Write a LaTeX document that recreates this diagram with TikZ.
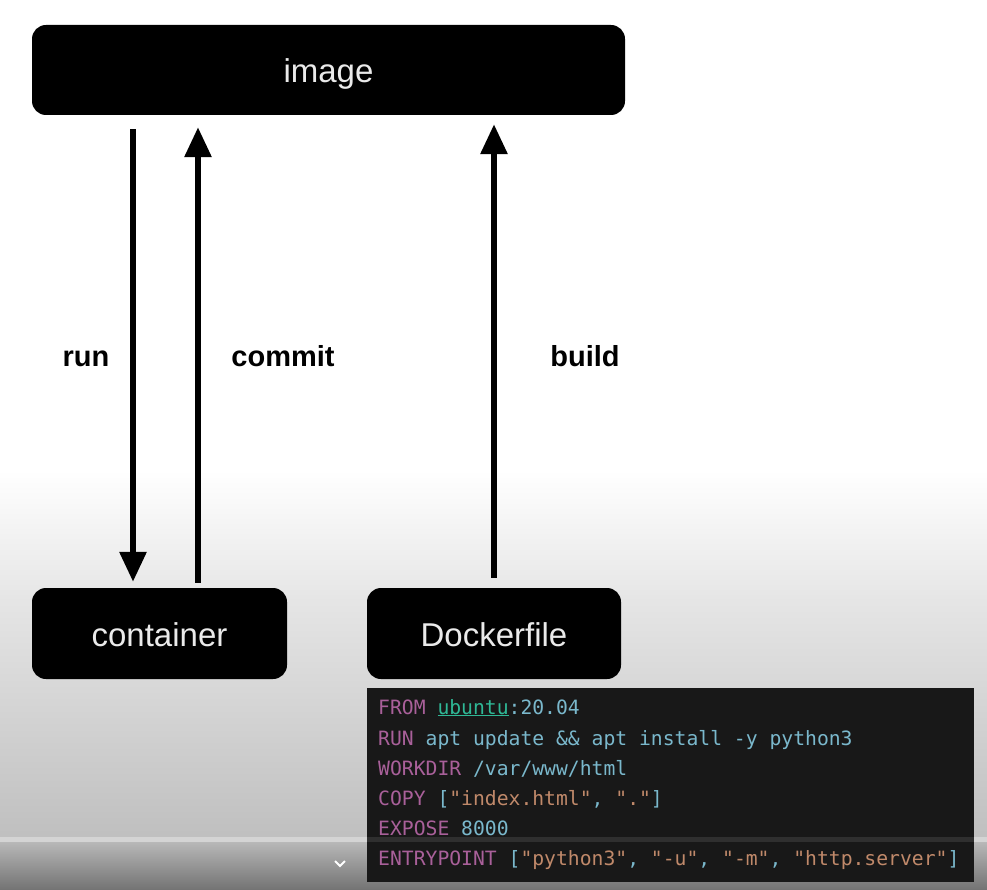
\documentclass[tikz,border=0pt]{standalone}
\usepackage{fontspec}
\setmainfont{Liberation Sans}
\newfontfamily\codefont{DejaVu Sans Mono}
\usetikzlibrary{arrows.meta}
\definecolor{kw}{HTML}{A9609A}
\definecolor{pl}{HTML}{7AB8CC}
\definecolor{st}{HTML}{C0896A}
\definecolor{ub}{HTML}{2FB896}
\definecolor{codebg}{HTML}{181818}
\definecolor{nodetext}{HTML}{EAEAEA}
\tikzset{
  blackbox/.style={fill=black, rounded corners=14pt, text=nodetext, inner sep=0pt,
    text height=30pt, text depth=5pt,
    font=\fontsize{33}{40}\selectfont},
  flowarrow/.style={line width=6pt, -{Triangle[width=26pt,length=30pt]}},
  lbl/.style={font=\fontsize{29}{34}\selectfont\bfseries, text=black, inner sep=0pt, anchor=base},
  codeline/.style={anchor=base west, inner sep=0pt, font=\codefont\fontsize{19.7}{24}\selectfont}
}
\begin{document}
\begin{tikzpicture}[x=1pt,y=-1pt]
\useasboundingbox (0,0) rectangle (987,890);
% background
\fill[white] (0,0) rectangle (987,471);
\shade[top color=white, bottom color=black!10] (0,470) rectangle (987,600);
\shade[top color=black!10, bottom color=black!25] (0,599) rectangle (987,838);
\fill[black!17] (0,837) rectangle (987,842);
\shade[top color=black!28, bottom color=black!55] (0,842) rectangle (987,890);
% boxes
\node[blackbox, minimum width=593pt, minimum height=90pt] (image) at (328.5,70) {image};
\node[blackbox, minimum width=255pt, minimum height=91pt] (container) at (159.5,633.5) {container};
\node[blackbox, minimum width=254pt, minimum height=91pt] (dockerfile) at (494,633.5) {Dockerfile};
% arrows
\coordinate (xrun) at (133,0);
\coordinate (xcommit) at (198,0);
\coordinate (xbuild) at (494,0);
\draw[flowarrow, shorten <=14pt, shorten >=6pt] (image.south -| xrun) -- (container.north -| xrun);
\draw[flowarrow, shorten <=5pt, shorten >=12pt] (container.north -| xcommit) -- (image.south -| xcommit);
\draw[flowarrow, shorten <=10pt, shorten >=9pt] (dockerfile.north -| xbuild) -- (image.south -| xbuild);
% labels
\node[lbl] (runl) at (86,366) {run};
\node[lbl] (commitl) at (283,366) {commit};
\node[lbl] (buildl) at (585,366) {build};
% code box
\fill[codebg] (367,688) rectangle (974,882);
\fill[white, opacity=0.10] (367,837) rectangle (974,842);
\node[codeline] (l1) at (378,714) {\textcolor{kw}{FROM} \textcolor{ub}{\underline{ubuntu}}\textcolor{pl}{:20.04}};
\node[codeline] (l2) at (378,745) {\textcolor{kw}{RUN} \textcolor{pl}{apt update \&\& apt install -y python3}};
\node[codeline] (l3) at (378,775) {\textcolor{kw}{WORKDIR} \textcolor{pl}{/var/www/html}};
\node[codeline] (l4) at (378,805) {\textcolor{kw}{COPY} \textcolor{pl}{[}\textcolor{st}{"index.html"}\textcolor{pl}{, }\textcolor{st}{"."}\textcolor{pl}{]}};
\node[codeline] (l5) at (378,835) {\textcolor{kw}{EXPOSE} \textcolor{pl}{8000}};
\node[codeline] (l6) at (378,865) {\textcolor{kw}{ENTRYPOINT} \textcolor{pl}{[}\textcolor{st}{"python3"}\textcolor{pl}{, }\textcolor{st}{"-u"}\textcolor{pl}{, }\textcolor{st}{"-m"}\textcolor{pl}{, }\textcolor{st}{"http.server"}\textcolor{pl}{]}};
% chevron
\draw[white, line width=2pt] (335,861) -- (340,866) -- (345,861);
\end{tikzpicture}
\end{document}
